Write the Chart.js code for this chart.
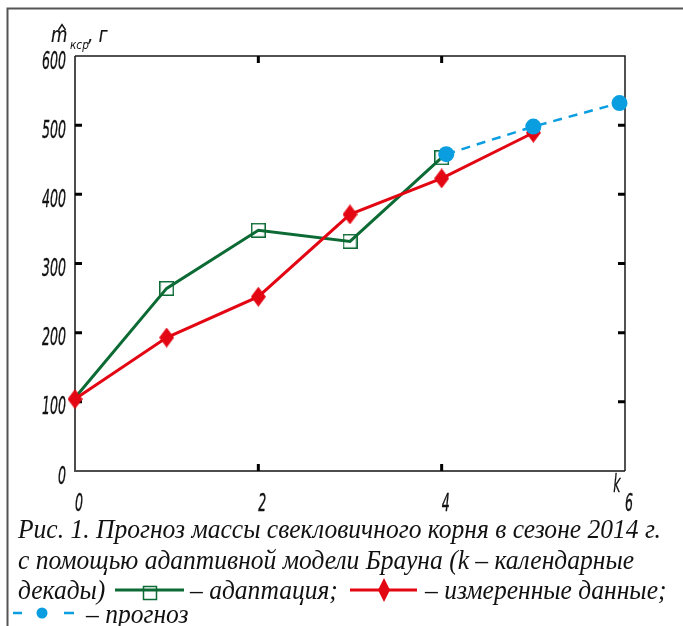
<!DOCTYPE html>
<html>
<head>
<meta charset="utf-8">
<script src="https://cdn.jsdelivr.net/npm/chart.js@4/dist/chart.umd.min.js"></script>
<style>
  html, body { margin: 0; padding: 0; background: #fff; }
  canvas { display: block; }
</style>
</head>
<body>
<canvas id="c" width="683" height="626"></canvas>
<script>
// Decades (k) and mean root mass, g
const kAdapt = [0, 1, 2, 3, 4];
const mAdapt = [106, 264, 348, 332, 453];
const kMeasured = [0, 1, 2, 3, 4, 5];
const mMeasured = [104, 193, 252, 371, 423, 489];
const kForecast = [4.05, 5, 5.94];
const mForecast = [458, 498, 532];

// Axis ranges and tick marks
const xTickValues = [0, 2, 4, 6];
const yTickValues = [0, 100, 200, 300, 400, 500, 600];
const yInnerTicks = [100, 200, 300, 400, 500];
const xInnerTicks = [2, 4];

// Caption text
const captionLine1 = 'Рис. 1. Прогноз массы свекловичного корня в сезоне 2014 г.';
const captionLine2 = 'с помощью адаптивной модели Брауна (k – календарные';
const captionLine3 = 'декады)';
const captionAdapt = '– адаптация;';
const captionMeasured = '– измеренные данные;';
const captionForecast = '– прогноз';

const GREEN = '#0c6a35';
const RED = '#e30613';
const BLUE = '#0a9ee0';
const labelFamily = "'DejaVu Sans Condensed', 'Liberation Sans', sans-serif";
const labelFont = 'italic 25px ' + labelFamily;
const captionFont = "italic 28px 'Liberation Serif', 'DejaVu Serif', serif";

function makeDiamond(w, h, color) {
  const c = document.createElement('canvas');
  c.width = w; c.height = h;
  const g = c.getContext('2d');
  g.fillStyle = color;
  g.beginPath();
  g.moveTo(w / 2, 0); g.lineTo(w, h / 2); g.lineTo(w / 2, h); g.lineTo(0, h / 2);
  g.closePath(); g.fill();
  return c;
}
function makeSquare(s, color) {
  const c = document.createElement('canvas');
  c.width = s; c.height = s;
  const g = c.getContext('2d');
  g.strokeStyle = color; g.lineWidth = 1.5;
  g.strokeRect(0.75, 0.75, s - 1.5, s - 1.5);
  return c;
}
const diamondImg = makeDiamond(15, 20, RED);
const squareImg = makeSquare(15, GREEN);

const toPoints = (xs, ys) => xs.map((x, i) => ({ x: x, y: ys[i] }));

// draws text squeezed horizontally by factor sx; optional outline thickens thin strokes
function squeezed(ctx, txt, x, y, sx, align, weight) {
  ctx.save();
  ctx.translate(x, y);
  ctx.scale(sx, 1);
  const w = ctx.measureText(txt).width;
  const dx = align === 'right' ? -w : align === 'center' ? -w / 2 : 0;
  ctx.fillText(txt, dx, 0);
  if (weight) {
    ctx.strokeStyle = ctx.fillStyle;
    ctx.lineWidth = weight;
    ctx.lineJoin = 'round';
    ctx.strokeText(txt, dx, 0);
  }
  ctx.restore();
}

// Frame, inner ticks, tick labels and caption
const decorations = {
  id: 'decorations',
  beforeDatasetsDraw(chart) {
    const { ctx, chartArea: a, scales } = chart;
    const xs = scales.x, ys = scales.y;
    ctx.save();
    ctx.lineCap = 'butt';
    ctx.strokeStyle = '#4d4d4d'; ctx.lineWidth = 2;
    ctx.beginPath();
    ctx.moveTo(a.left, a.top); ctx.lineTo(a.left, a.bottom); ctx.lineTo(a.right, a.bottom);
    ctx.stroke();
    ctx.strokeStyle = '#1a1a1a'; ctx.lineWidth = 1.5;
    ctx.beginPath();
    ctx.moveTo(a.left, a.top); ctx.lineTo(a.right, a.top); ctx.lineTo(a.right, a.bottom);
    ctx.stroke();
    ctx.strokeStyle = '#000'; ctx.lineWidth = 3;
    const len = 7;
    ctx.beginPath();
    yInnerTicks.forEach(v => {
      const y = ys.getPixelForValue(v);
      ctx.moveTo(a.left, y); ctx.lineTo(a.left + len, y);
      ctx.moveTo(a.right - len, y); ctx.lineTo(a.right, y);
    });
    xInnerTicks.forEach(v => {
      const x = xs.getPixelForValue(v);
      ctx.moveTo(x, a.top); ctx.lineTo(x, a.top + len);
      ctx.moveTo(x, a.bottom - len); ctx.lineTo(x, a.bottom);
    });
    ctx.stroke();
    ctx.restore();
  },
  afterDraw(chart) {
    const { ctx, chartArea: a, scales } = chart;
    ctx.save();
    // outer border of the figure
    ctx.strokeStyle = '#555'; ctx.lineWidth = 2;
    ctx.beginPath();
    ctx.moveTo(7.5, 626); ctx.lineTo(7.5, 8.5); ctx.lineTo(683, 8.5);
    ctx.stroke();

    // tick labels, narrow italic
    ctx.fillStyle = '#111';
    ctx.font = labelFont;
    ctx.textBaseline = 'middle';
    const lsx = 24 / ctx.measureText('600').width;
    scales.y.ticks.forEach(t => {
      squeezed(ctx, String(t.value), a.left - 9, scales.y.getPixelForValue(t.value) + 6, lsx, 'right', 0.35);
    });
    scales.x.ticks.forEach(t => {
      squeezed(ctx, String(t.value), scales.x.getPixelForValue(t.value) + 4, a.bottom + 33, lsx, 'center', 0.35);
    });
    squeezed(ctx, 'k', 617, a.bottom + 14, lsx, 'center', 0.3);

    // y axis title: m̂ with subscript, grams
    ctx.textBaseline = 'alphabetic';
    ctx.font = 'italic 22px ' + labelFamily;
    squeezed(ctx, 'm', 51, 42, 0.85, 'left', 0.2);
    ctx.font = 'italic 13px ' + labelFamily;
    squeezed(ctx, 'кср', 70, 49, 0.9, 'left');
    ctx.font = 'italic 22px ' + labelFamily;
    squeezed(ctx, ', г', 88, 42, 0.85, 'left', 0.2);
    ctx.strokeStyle = '#111'; ctx.lineWidth = 1.4;
    ctx.beginPath();
    ctx.moveTo(58.5, 30); ctx.lineTo(62, 24.5); ctx.lineTo(65.5, 30);
    ctx.stroke();

    // caption
    ctx.font = captionFont;
    ctx.fillStyle = '#111';
    const sx = 643 / ctx.measureText(captionLine1).width;
    squeezed(ctx, captionLine1, 18, 538, sx, 'left');
    squeezed(ctx, captionLine2, 18, 569, sx, 'left');
    squeezed(ctx, captionLine3, 18, 599, sx, 'left');
    squeezed(ctx, captionAdapt, 190, 599, sx, 'left');
    squeezed(ctx, captionMeasured, 425, 599, sx, 'left');
    squeezed(ctx, captionForecast, 86, 623, sx, 'left');

    // caption line samples
    const ly = 590;
    ctx.lineWidth = 3;
    ctx.strokeStyle = GREEN;
    ctx.beginPath(); ctx.moveTo(115, ly); ctx.lineTo(184, ly); ctx.stroke();
    ctx.lineWidth = 1.5;
    ctx.strokeRect(143.5, ly - 3.5, 13, 13);
    ctx.lineWidth = 3;
    ctx.strokeStyle = RED;
    ctx.beginPath(); ctx.moveTo(350, ly); ctx.lineTo(417, ly); ctx.stroke();
    ctx.fillStyle = RED;
    ctx.beginPath();
    ctx.moveTo(384, ly - 12); ctx.lineTo(390, ly); ctx.lineTo(384, ly + 12); ctx.lineTo(378, ly);
    ctx.closePath(); ctx.fill();
    const fy = 613;
    ctx.strokeStyle = BLUE; ctx.lineWidth = 2.5;
    ctx.beginPath();
    ctx.moveTo(13, fy); ctx.lineTo(22, fy);
    ctx.moveTo(64, fy); ctx.lineTo(74, fy);
    ctx.stroke();
    ctx.fillStyle = BLUE;
    ctx.beginPath(); ctx.arc(42, fy, 5.5, 0, Math.PI * 2); ctx.fill();
    ctx.restore();
  }
};

new Chart(document.getElementById('c'), {
  type: 'line',
  data: {
    datasets: [
      {
        label: 'адаптация',
        data: toPoints(kAdapt, mAdapt),
        borderColor: GREEN,
        borderWidth: 3,
        pointStyle: squareImg,
        // the first point sits under the measured marker
        pointRadius: c => (c.dataIndex === 0 ? 0 : 7),
        order: 3
      },
      {
        label: 'измеренные данные',
        data: toPoints(kMeasured, mMeasured),
        borderColor: RED,
        borderWidth: 3,
        pointStyle: diamondImg,
        pointRadius: 8,
        order: 2
      },
      {
        label: 'прогноз',
        data: toPoints(kForecast, mForecast),
        borderColor: BLUE,
        backgroundColor: BLUE,
        borderWidth: 2.5,
        borderDash: [9, 7],
        pointStyle: 'circle',
        pointRadius: 8,
        pointBorderWidth: 0,
        order: 1
      }
    ]
  },
  options: {
    responsive: false,
    devicePixelRatio: 1,
    animation: false,
    clip: false,
    layout: { padding: { left: 0, top: 56, right: 58, bottom: 0 } },
    plugins: { legend: { display: false }, tooltip: { enabled: false } },
    elements: { line: { tension: 0 } },
    scales: {
      x: {
        type: 'linear',
        min: xTickValues[0],
        max: xTickValues[xTickValues.length - 1],
        afterBuildTicks: s => { s.ticks = xTickValues.map(v => ({ value: v })); },
        afterFit: s => { s.height = 155; },
        grid: { display: false, drawTicks: false },
        border: { display: false },
        ticks: { display: false }
      },
      y: {
        min: yTickValues[0],
        max: yTickValues[yTickValues.length - 1],
        afterBuildTicks: s => { s.ticks = yTickValues.map(v => ({ value: v })); },
        afterFit: s => { s.width = 75; },
        grid: { display: false, drawTicks: false },
        border: { display: false },
        ticks: { display: false }
      }
    }
  },
  plugins: [decorations]
});
</script>
</body>
</html>
